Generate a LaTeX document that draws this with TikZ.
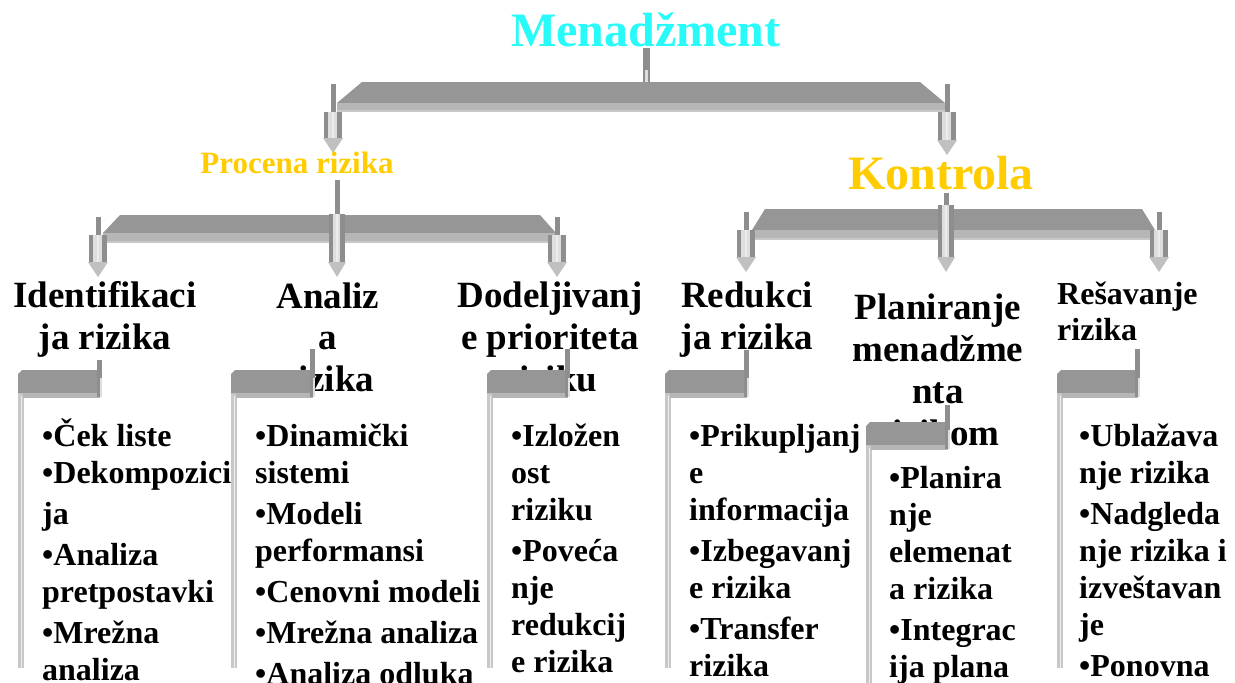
\documentclass[tikz,border=0pt]{standalone}
\usepackage{fontspec}
\setmainfont{Liberation Serif}
\definecolor{titlec}{RGB}{40,250,250}
\definecolor{goldc}{RGB}{255,204,0}
\definecolor{barc}{RGB}{150,150,150}
\definecolor{lowc}{RGB}{182,182,182}
\definecolor{linec}{RGB}{200,200,200}
\definecolor{stemc}{RGB}{142,142,142}
\definecolor{shaft}{RGB}{222,222,222}
\definecolor{headc}{RGB}{192,192,192}
% down arrow: x, stem top, body top, body bottom, half width
\newcommand\DArrow[5]{%
  \fill[stemc] ({#1-2.5},#2) rectangle ({#1+2.5},#3);
  \fill[stemc] ({#1-#5},#3) rectangle ({#1+#5},#4);
  \fill[shaft] ({#1-#5+4},#3) rectangle ({#1+#5-5},#4);
  \fill[white!85!gray] ({#1-1},#3) rectangle ({#1+1},#4);
  \fill[headc] ({#1-#5-1},#4) -- ({#1+#5+1},#4) -- (#1,{#4+15}) -- cycle;
}
% box header (bracket): x0, x1, ytop, ystem, ybottom
\newcommand\BoxHead[5]{%
  \fill[linec] (#1,{#3+20}) rectangle ({#1+6},#5);
  \fill[white!70!linec] ({#1+2.5},{#3+26}) rectangle ({#1+4},#5);
  \fill[barc] ({#1+4},#3) -- (#2,#3) -- (#2,{#3+23}) -- (#1,{#3+23}) -- (#1,{#3+4}) -- cycle;
  \fill[lowc] ({#1+5},{#3+23}) rectangle (#2,{#3+28});
  \fill[stemc] ({#2-3},#4) rectangle ({#2+2},{#3+27});
  \fill[shaft] ({#2},{#3+8}) rectangle ({#2+1.5},{#3+27});
}
\begin{document}
\begin{tikzpicture}[x=1pt,y=-1pt,
  title/.style={font=\fontsize{48}{54}\selectfont\bfseries, inner sep=0, anchor=base},
  sub/.style={font=\fontsize{31}{36}\selectfont\bfseries, inner sep=0, anchor=base},
  lbl/.style={font=\fontsize{37}{42}\selectfont\bfseries, inner sep=0, anchor=base},
  lbls/.style={font=\fontsize{32}{37}\selectfont\bfseries, inner sep=0, anchor=base west},
  item/.style={font=\fontsize{32}{37}\selectfont\bfseries, inner sep=0, anchor=base west}]
\useasboundingbox (0,0) rectangle (1235,683);
\clip (0,0) rectangle (1235,683);
\fill[white] (0,0) rectangle (1235,683);

% ---- titles
\node[title, text=titlec] (men) at (646,46) {Menadžment};
\node[sub, text=goldc] (proc) at (297,173) {Procena rizika};
\node[title, text=goldc] (kon) at (941,189) {Kontrola};

% ---- top bar
\fill[stemc] (643,48) rectangle (650,82);
\fill[shaft] (645,70) rectangle (648,82);
\fill[barc] (362,82) -- (920,82) -- (945,103) -- (337,103) -- cycle;
\fill[lowc] (337,103) rectangle (948,110);
\fill[linec] (337,110) rectangle (948,112);
\coordinate (tl) at (333,84);
\coordinate (tr) at (947,84);
\DArrow{333}{84}{112}{138}{9}
\DArrow{947}{84}{112}{140}{9}

% ---- Procena bar
\fill[barc] (120,215) -- (540,215) -- (556,233) -- (103,233) -- cycle;
\fill[lowc] (103,233) rectangle (558,241);
\fill[linec] (103,241) rectangle (558,243);
\DArrow{98}{217}{235}{262}{9}
\DArrow{557}{217}{235}{262}{9}
\DArrow{337}{180}{214}{262}{8}

% ---- Kontrola bar
\fill[barc] (765,209) -- (1142,209) -- (1155,230) -- (752,230) -- cycle;
\fill[lowc] (752,230) rectangle (1160,238);
\fill[linec] (752,238) rectangle (1160,240);
\DArrow{746}{212}{230}{257}{9}
\DArrow{1159}{212}{230}{257}{9}
\DArrow{946}{193}{205}{257}{8}

% ---- second level labels
\node[lbl] (i1) at (105,307) {Identifikaci};
\node[lbl] (i2) at (105,349) {ja rizika};
\node[lbl] (a1) at (328,308) {Analiz};
\node[lbl] (a2) at (328,349) {a};
\node[lbl] (a3) at (328,391) {rizika};
\node[lbl] (d1) at (550,307) {Dodeljivanj};
\node[lbl] (d2) at (550,349) {e prioriteta};
\node[lbl] (d3) at (550,391) {riziku};
\node[lbl] (r1) at (747,307) {Redukci};
\node[lbl] (r2) at (747,349) {ja rizika};
\node[lbl] (p1) at (938,319) {Planiranje};
\node[lbl] (p2) at (938,361) {menadžme};
\node[lbl] (p3) at (938,403) {nta};
\node[lbl] (p4) at (938,445) {rizikom};
\node[lbls] (s1) at (1057,304) {Rešavanje};
\node[lbls] (s2) at (1057,340) {rizika};

% ---- box headers
\BoxHead{18}{100}{370}{360}{668}
\BoxHead{231}{313}{370}{349}{668}
\BoxHead{487}{568}{370}{349}{668}
\BoxHead{665}{747}{370}{350}{668}
\BoxHead{866}{948}{422}{405}{700}
\BoxHead{1057}{1138}{370}{349}{668}

% ---- lists
\foreach \y/\t [count=\i] in {446/•Ček liste, 483/•Dekompozici, 524/ja, 565/•Analiza, 602/pretpostavki, 643/•Mrežna, 680/analiza}
  \node[item] (ba\i) at (42,\y) {\t};
\foreach \y/\t [count=\i] in {446/•Dinamički, 483/sistemi, 524/•Modeli, 561/performansi, 602/•Cenovni modeli, 643/•Mrežna analiza, 684/•Analiza odluka}
  \node[item] (bb\i) at (255,\y) {\t};
\foreach \y/\t [count=\i] in {446/•Izložen, 483/ost, 520/riziku, 561/•Poveća, 598/nje, 635/redukcij, 672/e rizika}
  \node[item] (bc\i) at (511,\y) {\t};
\foreach \y/\t [count=\i] in {446/•Prikupljanj, 483/e, 520/informacija, 561/•Izbegavanj, 598/e rizika, 639/•Transfer, 676/rizika}
  \node[item] (bd\i) at (689,\y) {\t};
\foreach \y/\t [count=\i] in {488/•Planira, 525/nje, 562/elemenat, 599/a rizika, 640/•Integrac, 677/ija plana}
  \node[item] (be\i) at (889,\y) {\t};
\foreach \y/\t [count=\i] in {446/•Ublažava, 483/nje rizika, 524/•Nadgleda, 561/nje rizika i, 598/izveštavan, 635/je, 676/•Ponovna}
  \node[item] (bf\i) at (1079,\y) {\t};
\end{tikzpicture}
\end{document}
